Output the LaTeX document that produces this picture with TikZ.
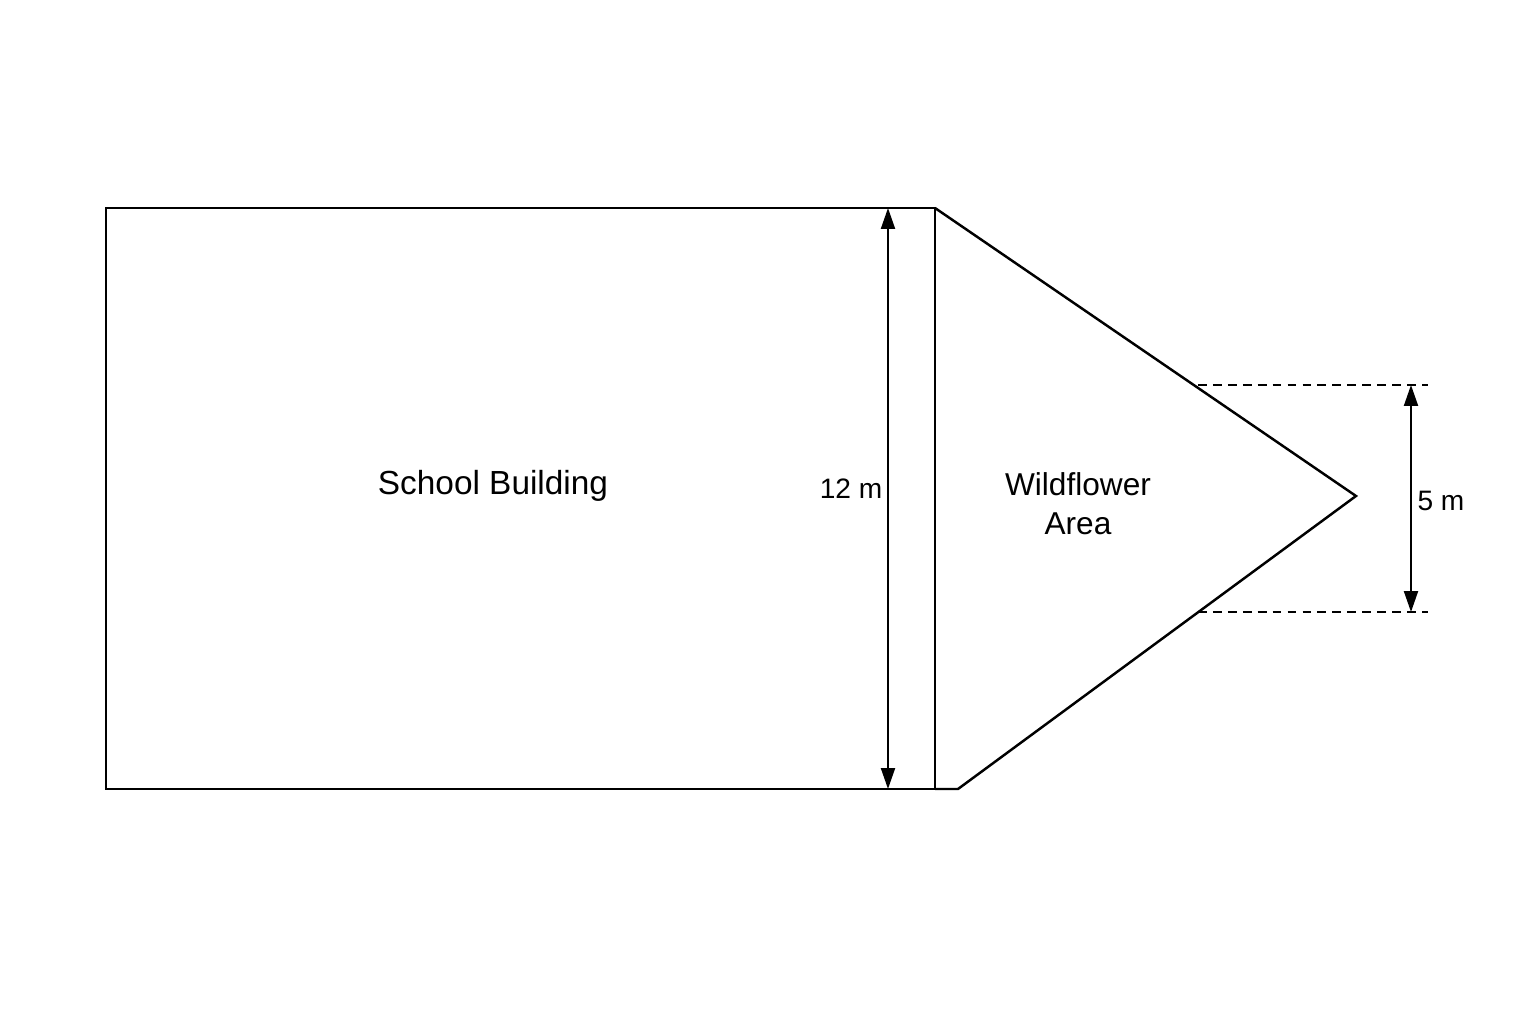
\documentclass[tikz,border=0pt]{standalone}
\usepackage{fontspec}
\setmainfont{Liberation Sans}
\usetikzlibrary{arrows.meta}
\begin{document}
\begin{tikzpicture}[x=0.02cm,y=-0.02cm,
  edge/.style={line width=1.4pt, line join=miter},
  dim/.style={line width=1.2pt, {Stealth[length=0.42cm,width=0.28cm,inset=0pt]}-{Stealth[length=0.42cm,width=0.28cm,inset=0pt]}},
  guide/.style={line width=1.1pt, dash pattern=on 5pt off 3.5pt},
  lbl/.style={align=center, inner sep=0pt}]
\useasboundingbox (0,0) rectangle (1536,1024);
% corners
\coordinate (TL) at (106,208);
\coordinate (BL) at (106,789);
\coordinate (TM) at (935,208);
\coordinate (BM) at (935,789);
\coordinate (BR) at (958,789);
\coordinate (AP) at (1356,496);
% school building
\draw[edge] (TL) -- (TM) -- (BM) -- (BL) -- cycle;
% wildflower area
\draw[edge] (TM) -- (AP) -- (BR) -- (BM);
% 12 m dimension
\coordinate (D1) at (888,208);
\coordinate (D2) at (888,789);
\draw[dim] (D1) -- (D2);
% 5 m dimension
\coordinate (G1a) at (1198,385);
\coordinate (G1b) at (1428,385);
\coordinate (G2a) at (1198,612);
\coordinate (G2b) at (1428,612);
\draw[guide] (G1a) -- (G1b);
\draw[guide] (G2a) -- (G2b);
\coordinate (E1) at (1411,385);
\coordinate (E2) at (1411,612);
\draw[dim] (E1) -- (E2);
% labels
\node[lbl, font=\fontsize{19}{22}\selectfont] (school) at (493,486) {School Building};
\node[lbl, font=\fontsize{16}{19}\selectfont] (twelve) at (851,489) {12 m};
\node[lbl, font=\fontsize{18}{22}\selectfont, text width=5cm] (wild) at (1078,504) {Wildflower\\Area};
\node[lbl, font=\fontsize{16}{19}\selectfont] (five) at (1441,501) {5 m};
\end{tikzpicture}
\end{document}
